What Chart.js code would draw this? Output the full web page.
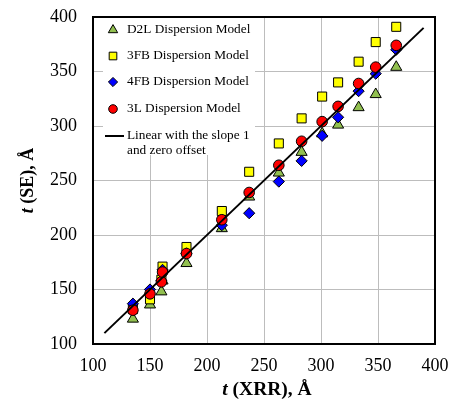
<!DOCTYPE html>
<html>
<head>
<meta charset="utf-8">
<script src="https://cdn.jsdelivr.net/npm/chart.js@4.4.0/dist/chart.umd.min.js"></script>
<style>
    html, body { margin: 0; padding: 0; background: #fff; }
</style>
</head>
<body>
<canvas id="chart" width="458" height="407"></canvas>
<script>
// thickness from XRR (x) vs thickness from SE for each dispersion model (y)
const xrr = [135, 150, 160, 161, 182, 213, 237, 263, 283, 301, 315, 333, 348, 366];
const d2l = [123, 136, 148, 158, 174, 206, 235, 257, 276, 293, 301, 317, 329, 354];
const fb3 = [132, 141, 159, 171, 189, 222, 258, 284, 307, 327, 340, 359, 377, 391];
const fb4 = [137, 150, 158, 168, 183, 209, 220, 249, 268, 291, 308, 332, 348, 370];
const l3 = [131, 146, 157, 166, 183, 214, 239, 264, 286, 304, 318, 339, 354, 374];
const lineX = [110, 390];
const axisTicks = [100, 150, 200, 250, 300, 350, 400];

const serif = "'Liberation Serif', 'Times New Roman', serif";

function pts(ys) {
    return xrr.map((x, i) => ({ x: x, y: ys[i] }));
}

const series = [
    { label: "D2L Dispersion Model", data: d2l, style: "triangle", radius: 6.4, fill: "#92c050", order: 4 },
    { label: "3FB Dispersion Model", data: fb3, style: "rect", radius: 6.4, fill: "#ffff00", order: 3 },
    { label: "4FB Dispersion Model", data: fb4, style: "rectRot", radius: 5.6, fill: "#0000ff", order: 2 },
    { label: "3L Dispersion Model", data: l3, style: "circle", radius: 5.3, fill: "#ff0000", order: 1 }
];

const datasets = series.map(s => ({
    label: s.label,
    data: pts(s.data),
    pointStyle: s.style,
    pointRadius: s.radius,
    pointBackgroundColor: s.fill,
    pointBorderColor: "#000",
    pointBorderWidth: 1,
    order: s.order
}));

datasets.push({
    label: "Linear with the slope 1 and zero offset",
    type: "line",
    data: lineX.map(v => ({ x: v, y: v })),
    borderColor: "#000",
    borderWidth: 2,
    pointRadius: 0,
    fill: false,
    order: 0
});

// legend drawn inside the plot, top left
const insideLegend = {
    id: "insideLegend",
    afterDatasetsDraw(chart) {
        const ctx = chart.ctx;
        ctx.save();
        ctx.fillStyle = "#fff";
        ctx.fillRect(103, 18, 152, 137);
        ctx.font = "13.3px " + serif;
        ctx.textBaseline = "middle";
        const rows = [30, 56, 82, 109];
        series.forEach((s, i) => {
            ctx.fillStyle = s.fill;
            ctx.strokeStyle = "#000";
            ctx.lineWidth = 1;
            Chart.helpers.drawPoint(ctx, {
                pointStyle: s.style,
                radius: s.radius - 1,
                rotation: 0,
                borderWidth: 1
            }, 113, rows[i]);
            ctx.fillStyle = "#000";
            ctx.fillText(s.label, 127, rows[i]);
        });
        ctx.strokeStyle = "#000";
        ctx.lineWidth = 2;
        ctx.beginPath();
        ctx.moveTo(105, 136);
        ctx.lineTo(124, 136);
        ctx.stroke();
        ctx.fillStyle = "#000";
        ctx.fillText("Linear with the slope 1", 127, 136);
        ctx.fillText("and zero offset", 127, 151);
        ctx.restore();
    }
};

// frame + axis titles with italic t
const frameAndTitles = {
    id: "frameAndTitles",
    afterDraw(chart) {
        const ctx = chart.ctx;
        const a = chart.chartArea;
        ctx.save();
        ctx.strokeStyle = "#000";
        ctx.lineWidth = 2;
        ctx.strokeRect(a.left, a.top, a.right - a.left, a.bottom - a.top);

        function title(rest, size, cx, cy, rot) {
            const it = "italic bold " + size + "px " + serif;
            const bd = "bold " + size + "px " + serif;
            ctx.font = it;
            const w1 = ctx.measureText("t").width;
            ctx.font = bd;
            const w2 = ctx.measureText(rest).width;
            ctx.save();
            ctx.translate(cx, cy);
            ctx.rotate(rot);
            ctx.fillStyle = "#000";
            ctx.textBaseline = "middle";
            ctx.textAlign = "left";
            const x0 = -(w1 + w2) / 2;
            ctx.font = it;
            ctx.fillText("t", x0, 0);
            ctx.font = bd;
            ctx.fillText(rest, x0 + w1, 0);
            ctx.restore();
        }
        title(" (XRR), Å", 19.5, 267, 390, 0);
        title(" (SE), Å", 18, 28, (a.top + a.bottom) / 2, -Math.PI / 2);
        ctx.restore();
    }
};

const tickFont = { family: serif, size: 18 };

new Chart(document.getElementById("chart"), {
    type: "scatter",
    data: { datasets: datasets },
    options: {
        responsive: false,
        animation: false,
        layout: { padding: { top: 17, right: 23, left: 0, bottom: 0 } },
        plugins: {
            legend: { display: false },
            tooltip: { enabled: false }
        },
        scales: {
            x: {
                type: "linear",
                min: 100,
                max: 400,
                afterBuildTicks: scale => { scale.ticks = axisTicks.map(v => ({ value: v })); },
                afterFit: scale => {
                    scale.height = 63;
                    scale.paddingLeft = 0;
                    scale.paddingRight = 0;
                },
                ticks: { font: tickFont, color: "#000", padding: 11, maxRotation: 0 },
                grid: { color: "#bdbdbd", lineWidth: 1, drawTicks: false },
                border: { display: false }
            },
            y: {
                type: "linear",
                min: 100,
                max: 400,
                afterBuildTicks: scale => { scale.ticks = axisTicks.map(v => ({ value: v })); },
                afterFit: scale => {
                    scale.width = 93;
                    scale.paddingTop = 0;
                    scale.paddingBottom = 0;
                },
                ticks: { font: tickFont, color: "#000", padding: 16 },
                grid: { color: "#bdbdbd", lineWidth: 1, drawTicks: false },
                border: { display: false }
            }
        }
    },
    plugins: [insideLegend, frameAndTitles]
});
</script>
</body>
</html>
